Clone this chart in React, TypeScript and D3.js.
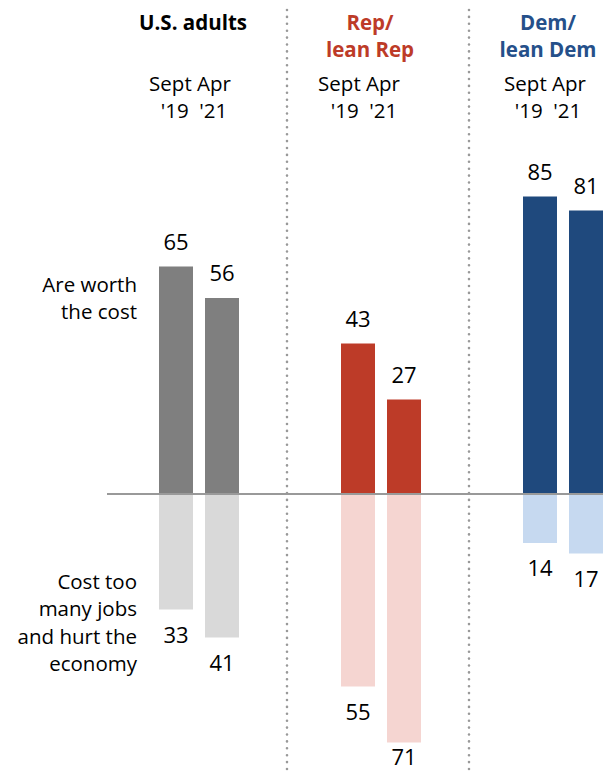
import React from "react";
import * as d3 from "d3";

const groups = ["U.S. adults", "Rep/ lean Rep", "Dem/ lean Dem"];
const groupTitleLines = [["U.S. adults"], ["Rep/", "lean Rep"], ["Dem/", "lean Dem"]];
const periods = ["Sept '19", "Apr '21"];
const periodLine1 = "Sept Apr";
const periodLine2 = "'19  '21";
const worthValues = [
  [65, 56],
  [43, 27],
  [85, 81],
];
const costValues = [
  [33, 41],
  [55, 71],
  [14, 17],
];
const worthLabel = ["Are worth", "the cost"];
const costLabel = ["Cost too", "many jobs", "and hurt the", "economy"];

const W = 603;
const H = 771;
const darkColors = ["#7f7f7f", "#bd3b28", "#1f497d"];
const lightColors = ["#d9d9d9", "#f5d5d1", "#c6d9f0"];
const titleColors = ["#000000", "#bd3b28", "#25508a"];
const titleDx = [-6, -11, -15];
const periodDx = [-9, -22, -18];
const period2Dx = [-5, -17, -15];
const FONT = "'Open Sans', 'DejaVu Sans', sans-serif";

export default function App() {
  const x0 = d3.scaleBand<string>().domain(groups).range([108, 654]).padding(0);
  const x1 = d3
    .scaleBand<string>()
    .domain(periods)
    .range([0, 80])
    .paddingInner(12 / 46)
    .paddingOuter(0);
  const y = d3.scaleLinear().domain([0, 100]).range([494, 144]);
  const zero = y(0);
  const bw = x1.bandwidth();

  return (
    <svg
      width={W}
      height={H}
      style={{ position: "absolute", left: 0, top: 0, display: "block", background: "#fff" }}
      fontFamily={FONT}
    >
      {groups.map((g, gi) => {
        const center = (x0(g) as number) + x0.bandwidth() / 2;
        const start = center - 40;
        return (
          <g key={g}>
            {groupTitleLines[gi].map((line, li) => (
              <text
                key={li}
                x={center + titleDx[gi]}
                y={30 + li * 27}
                textAnchor="middle"
                fontWeight={700}
                fontSize={20.5}
                fill={titleColors[gi]}
              >
                {line}
              </text>
            ))}
            <text x={center + periodDx[gi]} y={91} textAnchor="middle" fontSize={20.5} fill="#000">
              {periodLine1}
            </text>
            <text
              x={center + period2Dx[gi]}
              y={118}
              textAnchor="middle"
              fontSize={20.5}
              fill="#000"
              style={{ whiteSpace: "pre" }}
            >
              {periodLine2}
            </text>
            {periods.map((p, pi) => {
              const bx = start + (x1(p) as number);
              const wv = worthValues[gi][pi];
              const cv = costValues[gi][pi];
              return (
                <g key={p}>
                  <rect x={bx} y={y(wv)} width={bw} height={zero - y(wv)} fill={darkColors[gi]} />
                  <rect x={bx} y={zero} width={bw} height={y(-cv) - zero} fill={lightColors[gi]} />
                  <text x={bx + bw / 2} y={y(wv) - 17} textAnchor="middle" fontSize={22} fill="#000">
                    {wv}
                  </text>
                  <text
                    x={bx + bw / 2}
                    y={Math.min(y(-cv) + 33, H - 6)}
                    textAnchor="middle"
                    fontSize={22}
                    fill="#000"
                  >
                    {cv}
                  </text>
                </g>
              );
            })}
          </g>
        );
      })}
      {groups.slice(1).map((g) => (
        <line
          key={"sep" + g}
          x1={(x0(g) as number) - 3}
          x2={(x0(g) as number) - 3}
          y1={10}
          y2={H}
          stroke="#999"
          strokeWidth={2.6}
          strokeLinecap="round"
          strokeDasharray="0 6.9"
        />
      ))}
      <line x1={107} x2={W} y1={zero} y2={zero} stroke="#999" strokeWidth={2} />
      {worthLabel.map((l, i) => (
        <text key={l} x={137} y={292 + i * 27} textAnchor="end" fontSize={20.5} fill="#000">
          {l}
        </text>
      ))}
      {costLabel.map((l, i) => (
        <text key={l} x={137} y={589 + i * 27.4} textAnchor="end" fontSize={20.5} fill="#000">
          {l}
        </text>
      ))}
    </svg>
  );
}
